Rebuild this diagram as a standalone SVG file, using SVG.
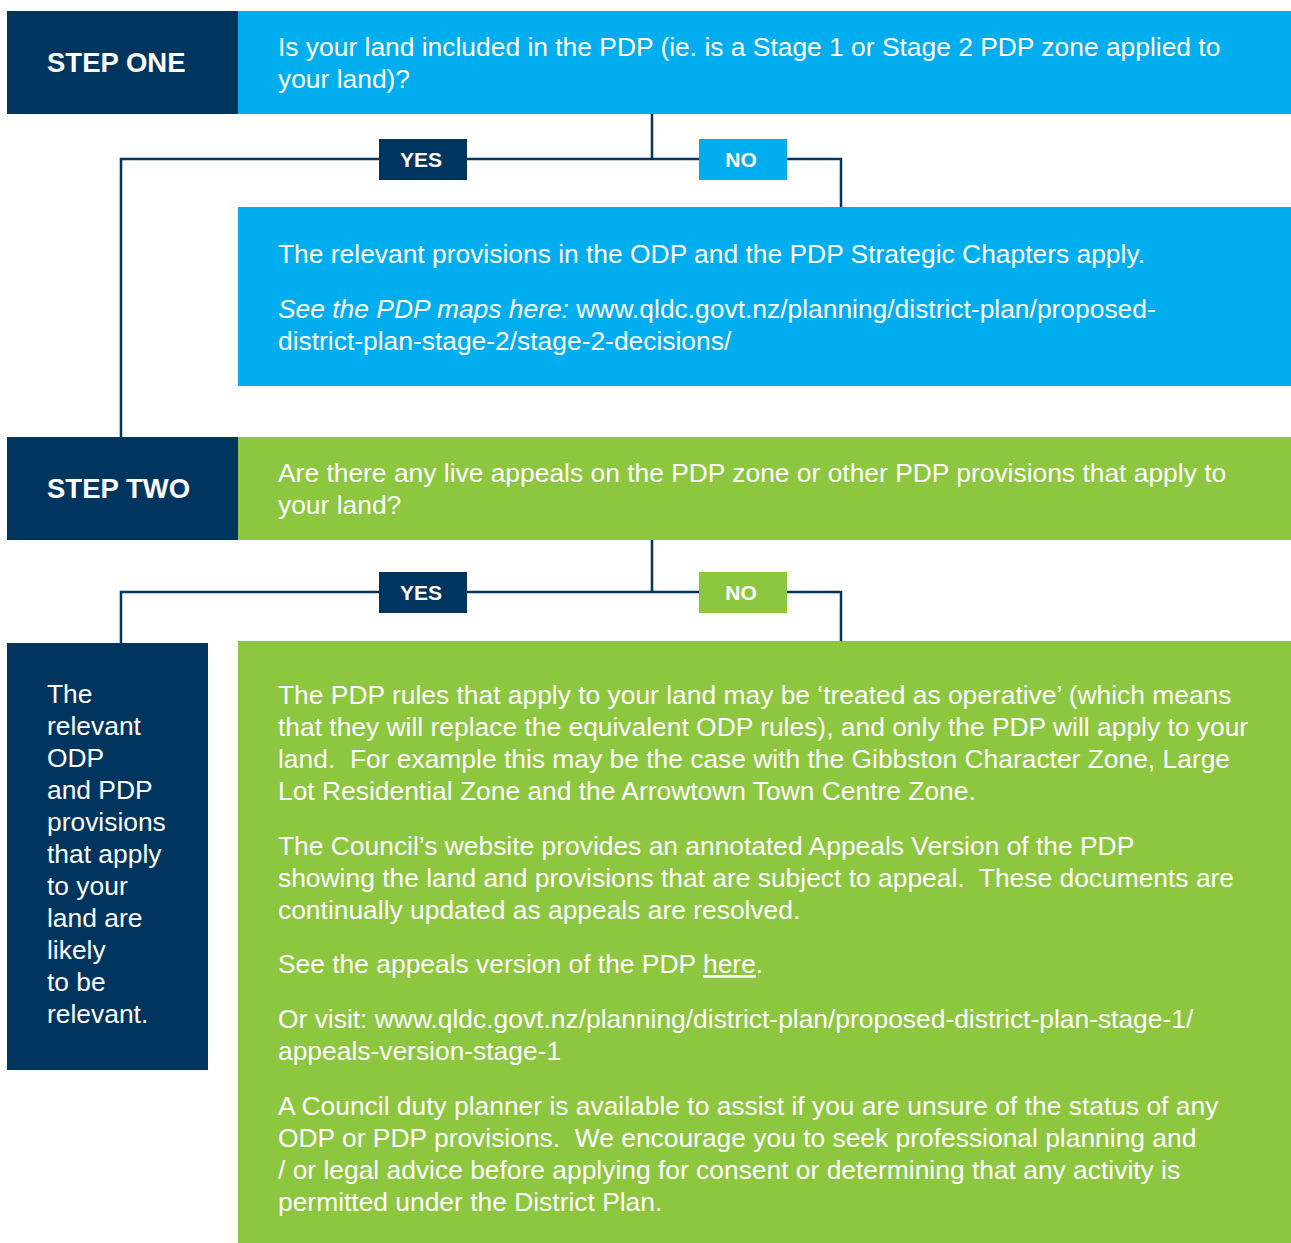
<svg xmlns="http://www.w3.org/2000/svg" width="1291" height="1243" viewBox="0 0 1291 1243">
<style>
.navy{fill:#003560}
.blue{fill:#00AEEF}
.green{fill:#8DC63F}
.step{font-family:"Liberation Sans",Arial,sans-serif;font-weight:bold;font-size:27.5px;fill:#fff}
.lbl{font-family:"Liberation Sans",Arial,sans-serif;font-weight:bold;font-size:21px;fill:#fff;text-anchor:middle}
.t{font-family:"Liberation Sans",Arial,sans-serif;font-size:26.4px;fill:#fff;white-space:pre}
.conn{fill:none;stroke:#003560;stroke-width:2.5}
</style>
<rect width="1291" height="1243" fill="#fff"/>
<g id="connectors">
<path class="conn" d="M652 114 V159 M121 437 V159 H841 V207"/>
<path class="conn" d="M652 540 V592 M121 643 V592 H841 V641"/>
</g>
<g id="step-one">
<rect class="navy" x="7" y="11" width="231" height="103"/>
<text class="step" x="47" y="72">STEP ONE</text>
</g>
<g id="q1">
<rect class="blue" x="238" y="11" width="1053" height="103"/>
<text class="t" x="278" y="56">Is your land included in the PDP (ie. is a Stage 1 or Stage 2 PDP zone applied to</text>
<text class="t" x="278" y="88">your land)?</text>
</g>
<g id="yes1">
<rect class="navy" x="379" y="139" width="88" height="41"/>
<text class="lbl" x="421" y="167">YES</text>
</g>
<g id="no1">
<rect class="blue" x="699" y="139" width="88" height="41"/>
<text class="lbl" x="741" y="167">NO</text>
</g>
<g id="a1">
<rect class="blue" x="238" y="207" width="1053" height="179"/>
<text class="t" x="278" y="263">The relevant provisions in the ODP and the PDP Strategic Chapters apply.</text>
<text class="t" x="278" y="318"><tspan font-style="italic">See the PDP maps here:</tspan> www.qldc.govt.nz/planning/district-plan/proposed-</text>
<text class="t" x="278" y="350">district-plan-stage-2/stage-2-decisions/</text>
</g>
<g id="step-two">
<rect class="navy" x="7" y="437" width="231" height="103"/>
<text class="step" x="47" y="498">STEP TWO</text>
</g>
<g id="q2">
<rect class="green" x="238" y="437" width="1053" height="103"/>
<text class="t" x="278" y="482">Are there any live appeals on the PDP zone or other PDP provisions that apply to</text>
<text class="t" x="278" y="514">your land?</text>
</g>
<g id="yes2">
<rect class="navy" x="379" y="572" width="88" height="41"/>
<text class="lbl" x="421" y="600">YES</text>
</g>
<g id="no2">
<rect class="green" x="699" y="572" width="88" height="41"/>
<text class="lbl" x="741" y="600">NO</text>
</g>
<g id="a2-yes">
<rect class="navy" x="7" y="643" width="201" height="427"/>
<text class="t" x="47" y="703">The</text>
<text class="t" x="47" y="735">relevant</text>
<text class="t" x="47" y="767">ODP</text>
<text class="t" x="47" y="799">and PDP</text>
<text class="t" x="47" y="831">provisions</text>
<text class="t" x="47" y="863">that apply</text>
<text class="t" x="47" y="895">to your</text>
<text class="t" x="47" y="927">land are</text>
<text class="t" x="47" y="959">likely</text>
<text class="t" x="47" y="991">to be</text>
<text class="t" x="47" y="1023">relevant.</text>
</g>
<g id="a2-no">
<rect class="green" x="238" y="641" width="1053" height="602"/>
<text class="t" x="278" y="704">The PDP rules that apply to your land may be ‘treated as operative’ (which means</text>
<text class="t" x="278" y="736">that they will replace the equivalent ODP rules), and only the PDP will apply to your</text>
<text class="t" x="278" y="768">land.  For example this may be the case with the Gibbston Character Zone, Large</text>
<text class="t" x="278" y="800">Lot Residential Zone and the Arrowtown Town Centre Zone.</text>
<text class="t" x="278" y="855">The Council’s website provides an annotated Appeals Version of the PDP</text>
<text class="t" x="278" y="887">showing the land and provisions that are subject to appeal.  These documents are</text>
<text class="t" x="278" y="919">continually updated as appeals are resolved.</text>
<text class="t" x="278" y="973">See the appeals version of the PDP <tspan text-decoration="underline">here</tspan>.</text>
<text class="t" x="278" y="1028">Or visit: www.qldc.govt.nz/planning/district-plan/proposed-district-plan-stage-1/</text>
<text class="t" x="278" y="1060">appeals-version-stage-1</text>
<text class="t" x="278" y="1115">A Council duty planner is available to assist if you are unsure of the status of any</text>
<text class="t" x="278" y="1147">ODP or PDP provisions.  We encourage you to seek professional planning and</text>
<text class="t" x="278" y="1179">/ or legal advice before applying for consent or determining that any activity is</text>
<text class="t" x="278" y="1211">permitted under the District Plan.</text>
</g>
</svg>
